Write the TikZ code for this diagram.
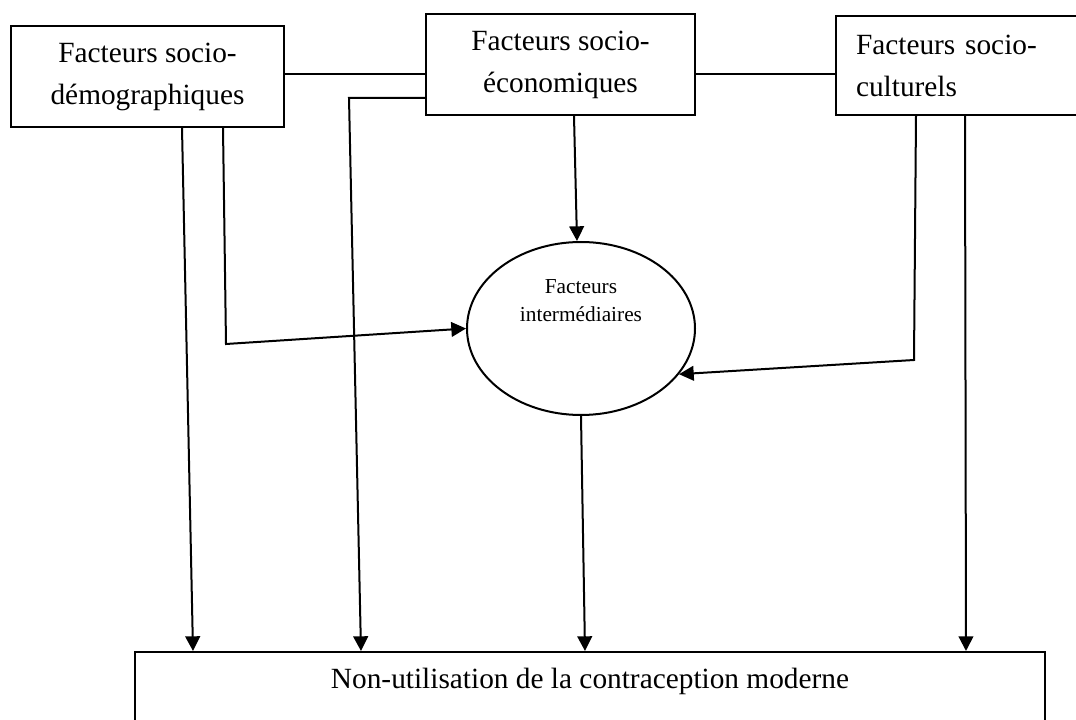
\documentclass[tikz,border=0pt]{standalone}
\usepackage{fontspec}
\setmainfont{Liberation Serif}
\usetikzlibrary{shapes.geometric,arrows.meta}

\begin{document}
\begin{tikzpicture}[x=0.75pt,y=-0.75pt,line width=1.5pt,
  >={Triangle[length=11pt,width=11pt]},
  factor/.style={draw,rectangle,inner sep=0pt,minimum height=75.75pt,
    font=\fontsize{22}{31.5}\selectfont,align=center}]

\clip (0,0) rectangle (1076,720);

\node[factor,minimum width=204.75pt](dem) at (147.5,76.5){Facteurs socio-\\démographiques};
\node[factor,minimum width=201.75pt](eco) at (560.5,64.5){Facteurs socio-\\économiques};
\node[factor,minimum height=74.25pt,inner xsep=15pt,text width=153pt,align=left](cult) at (958,65.5){Facteurs socio-\\culturels};
\node[draw,ellipse,minimum width=171pt,minimum height=129.75pt](interm) at (581,328.5){};
\node[font=\fontsize{16}{21}\selectfont,align=center](intermtext) at ([yshift=21pt]interm.center){Facteurs\\intermédiaires};
\node[draw,inner sep=0pt,minimum width=682.5pt,text height=27pt,text depth=60pt,
  font=\fontsize{22}{31.5}\selectfont,anchor=north](nonuse) at (590,651){Non-utilisation de la contraception moderne};

\coordinate (ecoturn) at (349,98);
\coordinate (demturn) at (226,344);
\coordinate (cultturn) at (914,360);

\draw (dem.east |- 0,74) -- (eco.west |- 0,74);
\draw (eco.east |- 0,74) -- (cult.west |- 0,74);
\draw[->] (eco.west |- 0,98) -- (ecoturn) -- (nonuse.north -| 361,0);
\draw[->] (dem.south -| 182,0) -- (nonuse.north -| 193,0);
\draw[->] (dem.south -| 223,0) -- (demturn) -- (interm.west);
\draw[->] (eco.south -| 574,0) -- (interm.north -| 577,0);
\draw[->] (cult.south -| 916,0) -- (cultturn) -- (interm.-25);
\draw[->] (cult.south -| 965,0) -- (nonuse.north -| 966,0);
\draw[->] (interm.south) -- (nonuse.north -| 585,0);

\end{tikzpicture}
\end{document}
